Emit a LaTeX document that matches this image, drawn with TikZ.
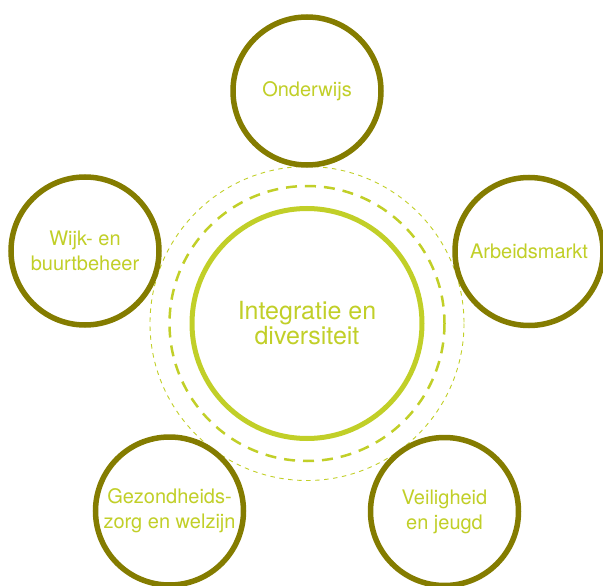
\documentclass[tikz,border=0pt]{standalone}
\usepackage{fontspec}
\setmainfont{TeX Gyre Heros}
\definecolor{olive}{HTML}{847C00}
\definecolor{lime}{HTML}{C1CF28}
\tikzset{
  theme/.style={circle, draw=olive, fill=white, line width=5.5pt,
    minimum size=148pt, inner sep=0pt, align=center, text=lime,
    font=\fontsize{20}{25}\selectfont},
  core/.style={circle, draw=lime, line width=5pt, minimum size=230pt,
    inner sep=0pt, align=center, text=lime,
    font=\fontsize{25}{25}\selectfont},
  ringa/.style={draw=lime, line width=2.5pt, dash pattern=on 11pt off 8pt},
  ringb/.style={draw=lime, line width=0.9pt, dash pattern=on 4.5pt off 4.5pt}
}
\begin{document}
\begin{tikzpicture}[x=1pt, y=-1pt]
  \useasboundingbox (0,0) rectangle (603,586);
  % dashed rings around the centre
  \coordinate (c) at (307,323.5);
  \draw[ringb] (c) circle[radius=157];
  \draw[ringa] (c) circle[radius=137.5];
  \node[core] (center) at (c) {Integratie en\\diversiteit};
  % surrounding themes
  \node[theme] (onderwijs) at (307,91) {Onderwijs};
  \node[theme] (arbeid) at (529,251.5) {Arbeidsmarkt};
  \node[theme] (wijk) at (85,251) {Wijk- en\\buurtbeheer};
  \node[theme] (zorg) at (169.5,511) {Gezondheids-\\zorg en welzijn};
  \node[theme] (veilig) at (444.5,511.5) {Veiligheid\\en jeugd};
\end{tikzpicture}
\end{document}
